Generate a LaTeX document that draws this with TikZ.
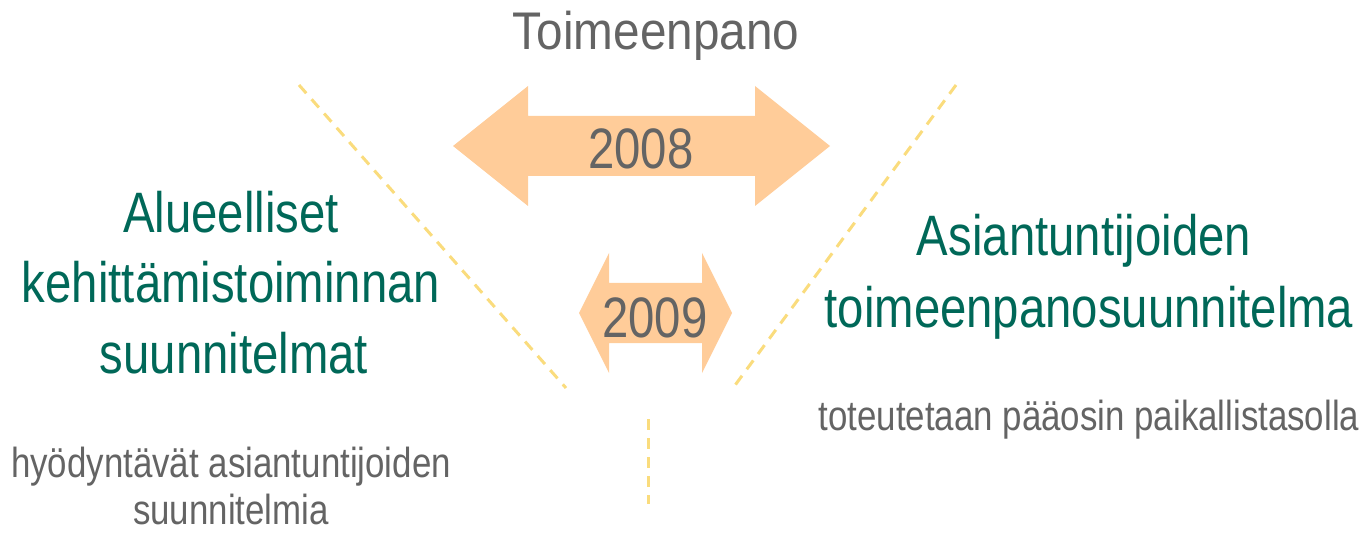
\documentclass[tikz,border=0pt]{standalone}
\usepackage{fontspec}
\setmainfont[FakeStretch=0.83]{Liberation Sans}
\newfontfamily\titlefont[FakeStretch=0.9]{Liberation Sans}
\definecolor{peach}{RGB}{255,204,153}
\definecolor{dashyellow}{RGB}{250,220,125}
\definecolor{planteal}{RGB}{0,104,88}
\definecolor{notegrey}{RGB}{100,100,100}

\begin{document}
\begin{tikzpicture}[x=1pt, y=-1pt]

                \tikzstyle{guide}   = [dashyellow, line width=3pt, dash pattern=on 11pt off 8pt]
                \tikzstyle{yeararrow} = [fill=peach]
                \tikzstyle{year}    = [anchor=base, inner sep=0pt, text=notegrey, font=\fontsize{57}{68}\selectfont]
                \tikzstyle{plan}    = [anchor=base, inner sep=0pt, text=planteal, font=\fontsize{57}{70}\selectfont]
                \tikzstyle{note}    = [anchor=base, inner sep=0pt, text=notegrey, font=\fontsize{42}{50}\selectfont]
                \useasboundingbox (0, 0) rectangle (1364, 534);
                \draw [guide] (299, 85) -- (566, 388);
                \draw [guide] (956, 85) -- (733, 388);
                \draw [guide] (648, 419) -- (648, 504);
                \fill [yeararrow] (453, 146) -- (528, 86) -- (528, 116) -- (755, 116) -- (755, 86) -- (830, 146)
                                  -- (755, 206) -- (755, 176) -- (528, 176) -- (528, 206) -- cycle;
                \fill [yeararrow] (579, 313) -- (609, 253) -- (609, 283) -- (702, 283) -- (702, 253) -- (732, 313)
                                  -- (702, 373) -- (702, 343) -- (609, 343) -- (609, 373) -- cycle;
                \node [anchor=base, inner sep=0pt, text=notegrey, font=\titlefont\fontsize{53}{64}\selectfont](title) at (656, 50) {Toimeenpano};
                \node [year](y2008) at (641, 169) {2008};
                \node [year](y2009) at (655, 337) {2009};
                \node [plan](alue1) at (231, 233) {Alueelliset};
                \node [plan](alue2) at (231, 303) {kehittämistoiminnan};
                \node [plan](alue3) at (234, 373) {suunnitelmat};
                \node [note](hyod1) at (231, 477) {hyödyntävät asiantuntijoiden};
                \node [note](hyod2) at (231, 524) {suunnitelmia};
                \node [plan](asia1) at (1084, 256) {Asiantuntijoiden};
                \node [plan](asia2) at (1089, 327) {toimeenpanosuunnitelma};
                \node [note](tote) at (1089, 430) {toteutetaan pääosin paikallistasolla};
\end{tikzpicture}
\end{document}
